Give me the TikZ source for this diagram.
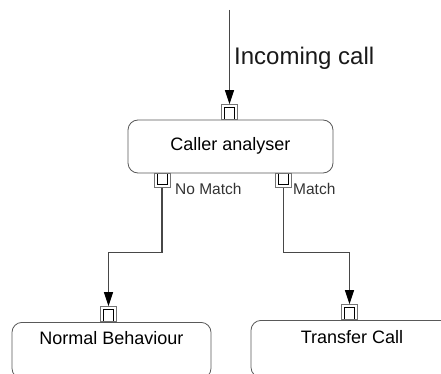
\documentclass[tikz,border=0pt]{standalone}
\usepackage{fontspec}
\setmainfont{Liberation Sans}
\usetikzlibrary{arrows.meta}
\begin{document}
\begin{tikzpicture}[x=1pt,y=-1pt,
  box/.style={draw=black!65, line width=0.8pt, rounded corners=10pt, fill=white,
    font=\fontsize{18}{20}\selectfont, text=black, inner xsep=0pt},
  conn/.style={draw=black!72, line width=1.1pt,
    -{Triangle[length=14pt,width=9pt,color=black]}},
  portbase/.style={rectangle, draw=black!55, line width=0.8pt, fill=white,
    minimum width=16pt, minimum height=15pt, inner sep=0pt},
  portup/.style={portbase, path picture={\draw[black, line width=0.8pt]
    ([shift={(3pt,0pt)}]path picture bounding box.south west) --
    ([shift={(3pt,-3pt)}]path picture bounding box.north west) --
    ([shift={(-3pt,-3pt)}]path picture bounding box.north east) --
    ([shift={(-3pt,0pt)}]path picture bounding box.south east);}},
  portdown/.style={portbase, minimum height=14pt, path picture={\draw[black, line width=0.8pt]
    ([shift={(3pt,0pt)}]path picture bounding box.north west) --
    ([shift={(3pt,3pt)}]path picture bounding box.south west) --
    ([shift={(-3pt,3pt)}]path picture bounding box.south east) --
    ([shift={(-3pt,0pt)}]path picture bounding box.north east);}},
  lbl/.style={anchor=base west, inner sep=0pt, text=black!80, font=\fontsize{15.5}{17}\selectfont}
]
\useasboundingbox (0,0) rectangle (441,374);
\clip (0,0) rectangle (441,374);

% boxes
\node[box, minimum width=205pt, minimum height=53pt, text height=13pt, text depth=4pt]
  (caller) at (230.5,146.5) {Caller analyser};
\node[box, anchor=north, minimum width=199pt, text height=13pt, text depth=25pt, inner ysep=9pt]
  (normal) at (111.5,322) {Normal Behaviour};
\node[box, anchor=north, minimum width=202pt, text height=13pt, text depth=24pt, inner ysep=10pt]
  (transfer) at (352,320) {Transfer Call};

% ports
\node[portup, anchor=south] (pin) at (229.5,120) {};
\node[portdown, anchor=north] (pnm) at (162,173) {};
\node[portdown, anchor=north] (pm) at (283.5,173) {};
\node[portup, anchor=south] (pn) at (108.5,322) {};
\node[portup, anchor=south] (pt) at (349.5,320) {};

% connectors
\coordinate (src) at (229.5,10);
\draw[conn] (src) -- (pin.north);
\draw[conn] (pnm.south) -- ++(0,65) -| (pn.north);
\draw[conn] (pm.south) -- ++(0,65) -| (pt.north);

% labels
\node[anchor=base west, inner sep=0pt, font=\fontsize{24}{26}\selectfont, text=black!90]
  (inlbl) at (234,65) {Incoming call};
\node[lbl] (nmlbl) at (175,194.5) {No Match};
\node[lbl] (mlbl) at (293,194.5) {Match};
\end{tikzpicture}
\end{document}
